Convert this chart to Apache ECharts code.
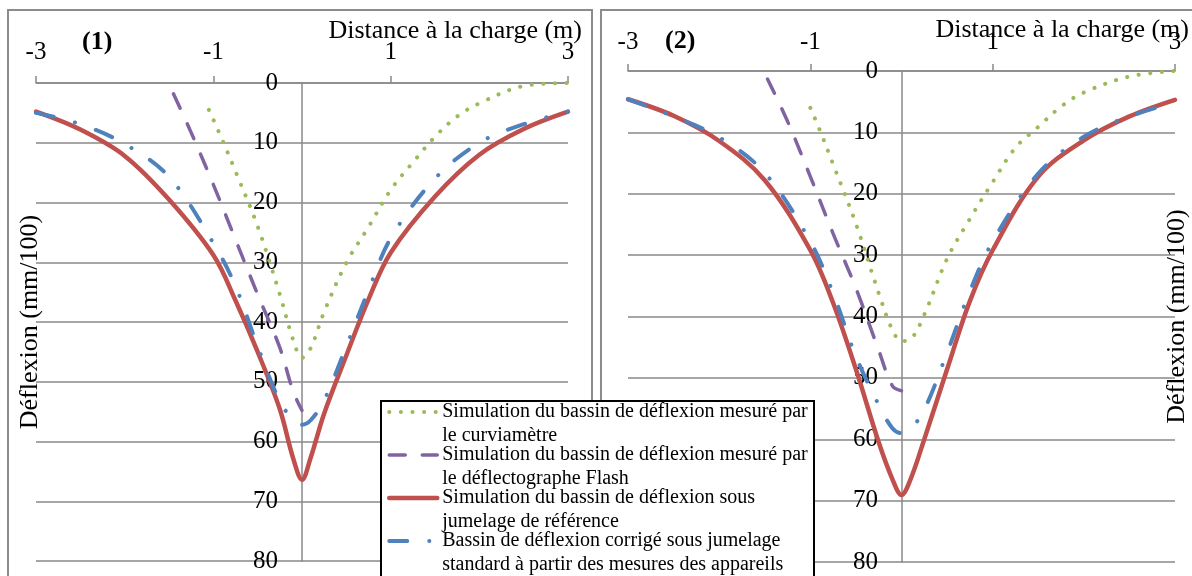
<!DOCTYPE html>
<html>
<head>
<meta charset="utf-8">
<title>Bassins de déflexion</title>
<script src="https://cdn.jsdelivr.net/npm/echarts@6.0.0/dist/echarts.min.js"></script>
<style>
  html, body { margin: 0; padding: 0; background: #ffffff; }
  #chart { width: 1192px; height: 576px; }
</style>
</head>
<body>
<div id="chart"></div>
<script>
// Legend labels, split on two lines as in the original figure
const seriesLabels = [
  ['Simulation du bassin de déflexion mesuré par', 'le curviamètre'],
  ['Simulation du bassin de déflexion mesuré par', 'le déflectographe Flash'],
  ['Simulation du bassin de déflexion sous', 'jumelage de référence'],
  ['Bassin de déflexion corrigé sous jumelage', 'standard à partir des mesures des appareils']
];

const xTicks = [-3, -1, 1, 3];
const yTicks = [0, 10, 20, 30, 40, 50, 60, 70, 80];

// Panel (1) - distance (m) / deflexion (mm/100)
const xCurvi1 = [-1.05, -0.9, -0.75, -0.5, -0.25, -0.1, 0, 0.1, 0.25, 0.5, 0.75, 1, 1.25, 1.5, 1.75, 2, 2.5, 3];
const dCurvi1 = [4.5, 9.5, 14.8, 24, 35.4, 43, 46, 44.3, 38.3, 30.1, 24.1, 17.9, 13.3, 9, 5.6, 3.4, 0.5, 0];
const xFlash1 = [-1.45, -1.25, -1, -0.75, -0.5, -0.25, -0.1, 0];
const dFlash1 = [1.8, 8.3, 17, 26.2, 35.4, 44.3, 51.6, 54.8];
const xRef1 = [-3, -2.5, -2, -1.5, -1, -0.75, -0.5, -0.25, -0.1, 0, 0.1, 0.25, 0.5, 0.75, 1, 1.5, 2, 2.5, 3];
const dRef1 = [4.8, 7.8, 12.2, 19.5, 28.8, 36.4, 45, 54.6, 62.8, 66.4, 62.6, 55.3, 45.6, 36.2, 28.4, 19, 12, 7.7, 4.8];
const xCorr1 = [-3, -2.5, -2, -1.5, -1, -0.75, -0.5, -0.25, -0.1, 0, 0.1, 0.25, 0.5, 0.75, 1, 1.5, 2, 2.5, 3];
const dCorr1 = [5, 6.9, 10.2, 15.7, 26.8, 34, 44.1, 53.3, 56.3, 57.2, 56.4, 53.1, 44.1, 34.7, 26, 16, 10, 6.9, 4.8];

// Panel (2)
const xCurvi2 = [-1, -0.9, -0.75, -0.5, -0.25, -0.1, 0, 0.1, 0.25, 0.5, 0.75, 1, 1.25, 1.5, 1.75, 2, 2.5, 3];
const dCurvi2 = [6, 9.5, 15.2, 24.9, 36.2, 42.2, 44, 43.7, 39.7, 30.6, 24.1, 18.1, 12.5, 9.1, 5.8, 3.5, 0.9, 0];
const xFlash2 = [-1.47, -1.25, -1, -0.75, -0.5, -0.25, -0.1, 0];
const dFlash2 = [1.3, 8.2, 17.2, 26.5, 35.4, 45.5, 51.3, 52.1];
const xRef2 = [-3, -2.5, -2, -1.5, -1, -0.75, -0.5, -0.25, -0.1, 0, 0.1, 0.25, 0.5, 0.75, 1, 1.5, 2, 2.5, 3];
const dRef2 = [4.6, 7.3, 11.4, 17.8, 29.2, 37.8, 48.6, 60.5, 66.5, 69.1, 66.5, 60, 48.6, 37.5, 29.2, 17.2, 11.3, 7.4, 4.7];
const xCorr2 = [-3, -2.5, -2, -1.5, -1, -0.75, -0.5, -0.25, -0.1, 0, 0.1, 0.25, 0.5, 0.75, 1, 1.5, 2, 2.5, 3];
const dCorr2 = [4.6, 7.4, 10.8, 16.6, 27.8, 36.2, 46.5, 54.4, 58.2, 59, 58.3, 55.2, 45.9, 35.9, 27.8, 16.7, 10.7, 7.4, 5.1];

const FONT = "'Liberation Serif', 'Times New Roman', serif";
const GRID_GRAY = '#898989';

// line look of the four curves (Excel office palette)
const curveStyles = [
  { color: '#9BBB59', width: 4, type: [0.1, 11.5], cap: 'round' },
  { color: '#8064A2', width: 3.5, type: [16, 17], cap: 'round' },
  { color: '#C0504D', width: 4.5, type: 'solid', cap: 'round' },
  { color: '#4F81BD', width: 4, type: [18, 22, 0.1, 22], cap: 'round' }
];

function pairs(xs, ds) {
  return xs.map((x, i) => [x, ds[i]]);
}

function seriesName(idx) {
  return seriesLabels[idx].join(' ');
}

// y labels/name sit at the grid edge in v6, so they are pulled back next to x = 0
function makeAxes(gridIndex, opts) {
  const xAxis = {
    gridIndex: gridIndex,
    type: 'value',
    position: 'top',
    min: xTicks[0],
    max: xTicks[xTicks.length - 1],
    interval: xTicks[1] - xTicks[0],
    name: 'Distance à la charge (m)',
    nameLocation: 'end',
    nameGap: 14,
    nameMoveOverlap: false,
    nameTextStyle: {
      fontFamily: FONT,
      fontSize: 26,
      color: '#000',
      align: 'right',
      verticalAlign: 'bottom',
      padding: [0, 0, opts.nameBottom, 0]
    },
    axisLine: { onZero: true, lineStyle: { color: GRID_GRAY, width: 1.5 } },
    axisTick: { show: true, inside: false, length: 7, lineStyle: { color: GRID_GRAY, width: 1.5 } },
    axisLabel: { fontFamily: FONT, fontSize: 25, color: '#000', margin: opts.xLabelMargin },
    splitLine: { show: false }
  };
  const yAxis = {
    gridIndex: gridIndex,
    type: 'value',
    inverse: true,
    min: yTicks[0],
    max: yTicks[yTicks.length - 1],
    interval: yTicks[1] - yTicks[0],
    name: 'Déflexion (mm/100)',
    nameLocation: 'middle',
    nameRotate: 90,
    nameGap: opts.yNameGap,
    nameMoveOverlap: false,
    nameTextStyle: {
      fontFamily: FONT,
      fontSize: 26,
      color: '#000',
      align: 'center',
      verticalAlign: 'middle'
    },
    axisLine: { onZero: true, lineStyle: { color: GRID_GRAY, width: 1.5 } },
    axisTick: { show: false },
    axisLabel: { fontFamily: FONT, fontSize: 25, color: '#000', margin: opts.yLabelMargin },
    splitLine: { show: true, lineStyle: { color: GRID_GRAY, width: 1.5 } }
  };
  return { xAxis, yAxis };
}

function makeSeries(axisIndex, panelData) {
  return panelData.map((data, idx) => ({
    name: seriesName(idx),
    type: 'line',
    xAxisIndex: axisIndex,
    yAxisIndex: axisIndex,
    data: data,
    smooth: 0.35,
    symbol: 'none',
    showSymbol: false,
    lineStyle: curveStyles[idx],
    itemStyle: { color: curveStyles[idx].color },
    z: 2 + idx
  }));
}

function initDeflexionChart() {
  const chartDom = document.getElementById('chart');
  if (!chartDom) return;

  const myChart = echarts.init(chartDom, null, { renderer: 'canvas' });

  const panel1 = makeAxes(0, { xLabelMargin: 18, nameBottom: 39, yNameGap: 6, yLabelMargin: -242 });
  const panel2 = makeAxes(1, { xLabelMargin: 16, nameBottom: 28, yNameGap: -549, yLabelMargin: -250 });

  const data1 = [pairs(xCurvi1, dCurvi1), pairs(xFlash1, dFlash1), pairs(xRef1, dRef1), pairs(xCorr1, dCorr1)];
  const data2 = [pairs(xCurvi2, dCurvi2), pairs(xFlash2, dFlash2), pairs(xRef2, dRef2), pairs(xCorr2, dCorr2)];

  const option = {
    animation: false,
    backgroundColor: '#ffffff',
    textStyle: { fontFamily: FONT, color: '#000' },
    title: [
      { text: '(1)', left: 82, top: 29, padding: 0, textStyle: { fontFamily: FONT, fontSize: 26, fontWeight: 'bold', color: '#000' } },
      { text: '(2)', left: 665, top: 28, padding: 0, textStyle: { fontFamily: FONT, fontSize: 26, fontWeight: 'bold', color: '#000' } }
    ],
    grid: [
      { left: 36, top: 83, width: 532, height: 478, outerBoundsMode: 'none' },
      { left: 628, top: 71, width: 547, height: 491, outerBoundsMode: 'none' }
    ],
    xAxis: [panel1.xAxis, panel2.xAxis],
    yAxis: [panel1.yAxis, panel2.yAxis],
    legend: {
      orient: 'vertical',
      left: 387,
      top: 376,
      height: 500,
      padding: 0,
      itemGap: -29,
      itemWidth: 48,
      itemHeight: 14,
      selectedMode: false,
      z: 12,
      itemStyle: { opacity: 0 },
      data: seriesLabels.map((lines, idx) => ({
        name: seriesName(idx),
        itemStyle: { opacity: 0 },
        lineStyle: { width: curveStyles[idx].width }
      })),
      formatter: (name) => {
        const hit = seriesLabels.find(lines => lines.join(' ') === name);
        const lines = hit || [name];
        return lines.map(line => '{t|' + line + '}').join('\n');
      },
      textStyle: {
        fontFamily: FONT,
        fontSize: 20,
        color: '#000',
        lineHeight: 24,
        // first text line level with the line sample
        padding: [24, 0, 0, 0],
        rich: {
          t: { fontFamily: FONT, fontSize: 20, lineHeight: 24, color: '#000' }
        }
      }
    },
    graphic: [
      // chart area frames of the two Excel panels
      { type: 'rect', z: 0, silent: true, shape: { x: 8, y: 10, width: 584, height: 620 },
        style: { fill: 'none', stroke: '#8c8c8c', lineWidth: 2 } },
      { type: 'rect', z: 0, silent: true, shape: { x: 601, y: 10, width: 620, height: 620 },
        style: { fill: 'none', stroke: '#8c8c8c', lineWidth: 2 } },
      // legend frame
      { type: 'rect', z: 10, silent: true, shape: { x: 381, y: 401, width: 433, height: 220 },
        style: { fill: '#ffffff', stroke: '#000000', lineWidth: 2 } }
    ],
    series: makeSeries(0, data1).concat(makeSeries(1, data2))
  };

  myChart.setOption(option);
  window.addEventListener('resize', () => myChart.resize());
}

initDeflexionChart();
</script>
</body>
</html>
